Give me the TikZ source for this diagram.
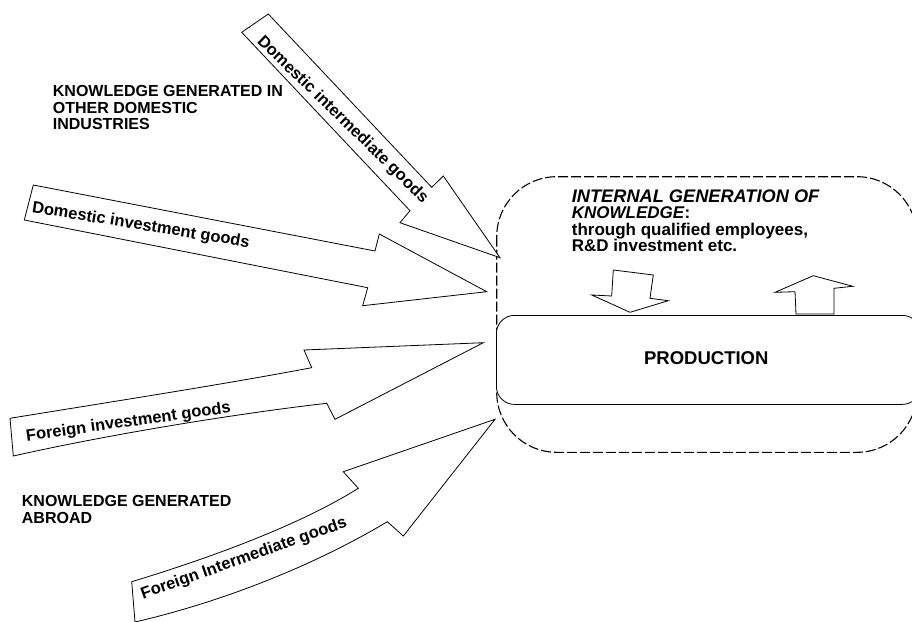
\documentclass[tikz,border=0pt]{standalone}
\usepackage{fontspec}
\setmainfont{Liberation Sans}
\begin{document}
\begin{tikzpicture}[x=1pt,y=-1pt,
  blk/.style={draw=black, line width=0.8pt, fill=white, line join=miter},
  lab/.style={font=\fontsize{16}{16.7}\selectfont\bfseries, inner sep=0pt, align=left, anchor=north west},
  boxtext/.style={font=\fontsize{17}{16.5}\selectfont\bfseries, inner sep=0pt, align=left, anchor=north west},
  atext/.style={font=\fontsize{16.5}{18}\selectfont\bfseries, inner sep=0pt},
  dashbox/.style={draw=black, line width=1.1pt, dash pattern=on 10pt off 3pt, rounded corners=60pt},
  prodbox/.style={draw=black, line width=0.8pt, fill=white, rounded corners=18pt}]
\useasboundingbox (0,0) rectangle (912,621);
\clip (0,0) rectangle (912,621);

% knowledge boxes
\draw[dashbox] (496.7,176.7) rectangle (917,452.3);
\node[prodbox, minimum width=424pt, minimum height=89pt, anchor=north west] (prod) at (496,315) {};
\node[font=\fontsize{18.5}{20}\selectfont\bfseries, inner sep=0pt] (prodtxt) at (706.3,357.8) {PRODUCTION};

\node[boxtext] (internal) at (571.7,189.5) {{\fontsize{18.2}{16.5}\selectfont\textit{INTERNAL GENERATION OF}}\\\textit{KNOWLEDGE}:\\through qualified employees,\\R\&D investment etc.};

% small arrows
\draw[blk] (613.3,270) -- (611.7,296) -- (591.7,295) -- (630,312.3) -- (668.3,300.7) -- (650,298.3) -- (653.3,275) -- cycle;
\draw[blk] (796,314) -- (795,291.7) -- (775,292.3) -- (813.3,275.7) -- (852.7,286.3) -- (834,288.3) -- (834,314) -- cycle;

% domestic intermediate goods
\draw[blk] (268.3,14) -- (431.7,187.3) -- (443.3,176) -- (500,257.7) -- (400,222.7) -- (410,210.7) -- (241.7,32.3) -- cycle;
\node[atext, rotate=-44.1] (dint) at (342.5,120) {Domestic intermediate goods};

% domestic investment goods
\draw[blk] (33.3,185) -- (375,251) -- (379.3,234) -- (486.7,291.7) -- (362.7,305.7) -- (367.7,287.7) -- (24.3,220) -- cycle;
\node[atext, rotate=-9.2] (dinv) at (140.8,225.8) {Domestic investment goods};

% foreign investment goods
\draw[blk] (10,418.3) .. controls (110,402) and (220,385) .. (311.7,367.7) -- (304,350) -- (483.3,342.7) -- (335,419.3) -- (326.7,403.3) .. controls (250,412) and (120,432) .. (13.3,456) -- cycle;
\node[atext, rotate=8] (finv) at (128.4,422.5) {Foreign investment goods};

% foreign intermediate goods
\draw[blk] (131.7,581.7) .. controls (210,558) and (300,525) .. (358.3,488.3) -- (343.3,471.7) -- (495,419.3) -- (403.3,536) -- (387.3,521.7) .. controls (320,562) and (230,600) .. (135,622) -- cycle;
\node[atext, rotate=19.5] (fint) at (244,559) {Foreign Intermediate goods};

% labels
\node[lab] (kdom) at (52.7,85) {KNOWLEDGE GENERATED IN\\OTHER DOMESTIC\\INDUSTRIES};
\node[lab] (kabr) at (21.7,495) {KNOWLEDGE GENERATED\\ABROAD};
\end{tikzpicture}
\end{document}
